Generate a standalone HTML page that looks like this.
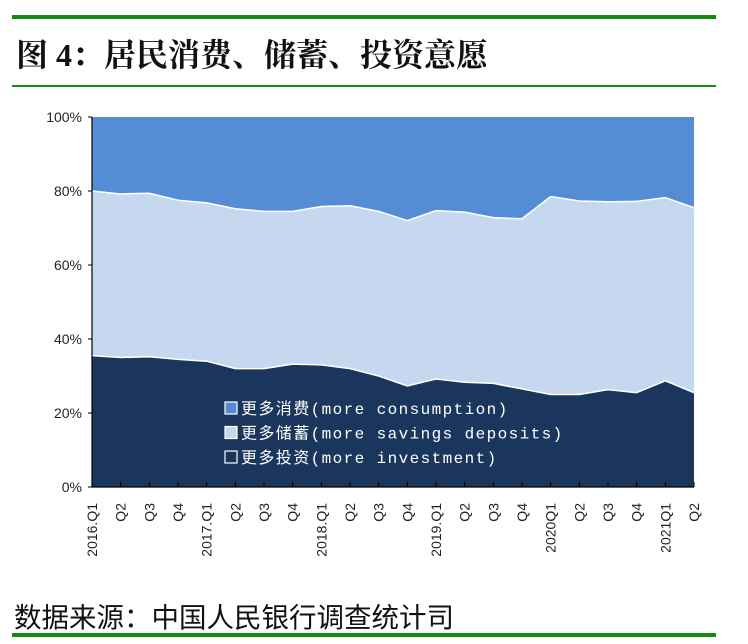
<!DOCTYPE html>
<html><head><meta charset="utf-8"><style>
body{margin:0;background:#fff;width:748px;height:644px;overflow:hidden;position:relative;font-family:"Liberation Serif","Noto Serif CJK SC",serif}
.gl{position:absolute;left:12px;width:704px;background:#138a12}
</style></head><body>
<div class="gl" style="top:15px;height:4px"></div>
<div style="position:absolute;left:16px;top:30px;font-size:32px;font-weight:bold;font-family:'Liberation Serif','Noto Serif CJK SC',serif;color:#111;white-space:nowrap">图 4：居民消费、储蓄、投资意愿</div>
<div class="gl" style="top:85px;height:2px"></div>
<svg id="c" width="748" height="644" style="position:absolute;left:0;top:0"></svg>
<div style="position:absolute;left:14px;top:595px;font-size:27.5px;font-family:'Liberation Sans','Noto Sans CJK SC',sans-serif;color:#111;white-space:nowrap">数据来源：中国人民银行调查统计司</div>
<div class="gl" style="top:633px;height:4px"></div>
<script>
const categories=["2016.Q1","Q2","Q3","Q4","2017.Q1","Q2","Q3","Q4","2018.Q1","Q2","Q3","Q4","2019.Q1","Q2","Q3","Q4","2020Q1","Q2","Q3","Q4","2021Q1","Q2"];
const investment=[35.5,35,35.2,34.5,34,32,32,33.2,33,32,30,27.3,29.2,28.3,28,26.5,25,25,26.3,25.5,28.7,25.5];
const savings=[44.5,44.2,44.2,43,42.8,43.2,42.5,41.3,42.8,44,44.5,44.7,45.5,46,44.8,46,53.5,52.3,50.8,51.7,49.5,50];
const yTicks=[0,20,40,60,80,100];
const NS="http://www.w3.org/2000/svg";
const svg=document.getElementById('c');
const L=92,R=694,T=117,B=487;
const xs=i=>L+(R-L)*i/(categories.length-1);
const ys=v=>B-(B-T)*v/100;
function el(t,a){const e=document.createElementNS(NS,t);for(const k in a)e.setAttribute(k,a[k]);svg.appendChild(e);return e;}
const base0=investment.map(()=>0);
const cum1=investment.slice();
const cum2=investment.map((v,i)=>v+savings[i]);
const top100=investment.map(()=>100);
function area(lo,hi,fill,name){
  let d="M"+hi.map((v,i)=>xs(i)+","+ys(v)).join("L");
  for(let i=lo.length-1;i>=0;i--)d+="L"+xs(i)+","+ys(lo[i]);
  const p=el('path',{d:d+"Z",fill:fill});
  
  
}
area(base0,cum1,"#1b365d","investment-area");
area(cum1,cum2,"#c6d8ef","savings-area");
area(cum2,top100,"#548dd4","consumption-area");
[cum1,cum2].forEach((s,j)=>{const p=el('polyline',{points:s.map((v,i)=>xs(i)+","+ys(v)).join(" "),fill:"none",stroke:"#fff","stroke-width":1.5});

});
const ax=el('path',{d:`M${L},${T}V${B}H${R}`,stroke:"#000","stroke-width":1.2,fill:"none"});


yTicks.forEach(v=>{el('line',{x1:L-4,x2:L,y1:ys(v),y2:ys(v),stroke:"#000"});
const t=el('text',{x:L-10,y:ys(v)+5,"text-anchor":"end","font-size":14,"font-family":"Liberation Sans,sans-serif",fill:"#222"});
t.textContent=v+"%";

});
categories.forEach((c,i)=>{const x=xs(i);
el('line',{x1:x,x2:x,y1:B,y2:B-5,stroke:"#000"});
const t=el('text',{x:0,y:0,transform:`translate(${x+5},${503}) rotate(-90)`,"text-anchor":"end","font-size":14,"font-family":"Liberation Sans,sans-serif",fill:"#222"});
t.textContent=c;

});
const leg=[["#548dd4","更多消费(more consumption)"],["#c6d8ef","更多储蓄(more savings deposits)"],["#1b365d","更多投资(more investment)"]];
leg.forEach((l,i)=>{const y=414+i*24.5;
const r=el('rect',{x:225,y:y-12,width:12,height:12,fill:l[0],stroke:"#fff","stroke-width":1.2});


const t=el('text',{x:241,y:y,"font-size":16,"letter-spacing":1.4,"font-family":"Liberation Mono,Noto Sans CJK SC,monospace",fill:"#fff"});
t.textContent=l[1];

});
</script>
</body></html>
